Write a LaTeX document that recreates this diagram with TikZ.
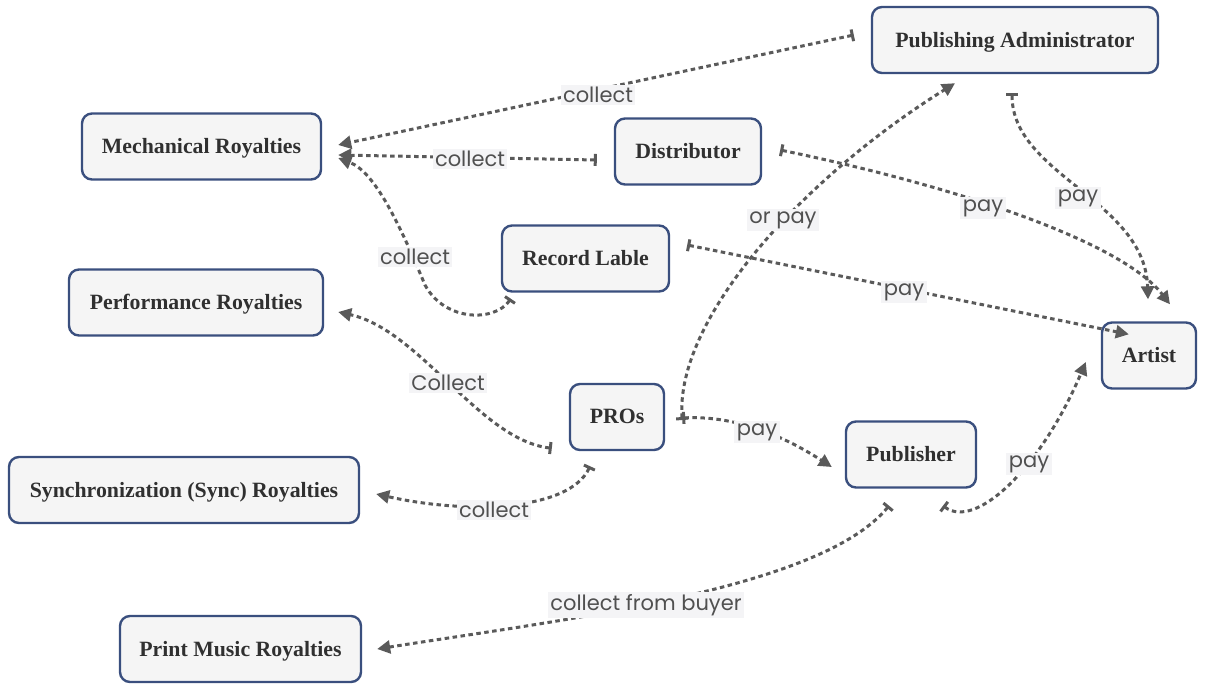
\documentclass[tikz,border=0pt]{standalone}
\usepackage{fontspec}
\setmainfont{Liberation Serif}
\newfontfamily\labelfont{Poppins}
\usetikzlibrary{arrows.meta}
\definecolor{boxfill}{HTML}{F5F5F5}
\definecolor{boxline}{HTML}{3A4F7E}
\definecolor{boxtext}{HTML}{303030}
\definecolor{linkgray}{HTML}{5A5A5A}
\definecolor{tagfill}{HTML}{F4F4F6}
\definecolor{tagtext}{HTML}{505050}

\begin{document}
\begin{tikzpicture}[x=1pt,y=-1pt,
  entity/.style={draw=boxline, line width=2.4pt, fill=boxfill, rounded corners=10pt,
    text=boxtext, font=\bfseries\fontsize{21.8}{24}\selectfont,
    minimum height=66pt, inner sep=0pt, text depth=1pt},
  link/.style={draw=linkgray, line width=3pt, dash pattern=on 4.5pt off 3.5pt,
    {Bar[width=12pt,line width=3pt]}-{Triangle[length=13pt,width=13pt]}},
  tag/.style={fill=tagfill, text=tagtext, font=\labelfont\fontsize{21}{23}\selectfont,
    inner sep=2.5pt}]

\useasboundingbox (0,0) rectangle (1206,683);

% parties and royalty types
\node[entity, minimum width=286pt] (pa)     at (1015,40)    {Publishing Administrator};
\node[entity, minimum width=239pt] (mech)   at (201.5,146.5) {Mechanical Royalties};
\node[entity, minimum width=146pt] (dist)   at (688,151.5)  {Distributor};
\node[entity, minimum width=167pt] (rec)    at (585.5,258.5) {Record Lable};
\node[entity, minimum width=254pt] (perf)   at (196,302.5)  {Performance Royalties};
\node[entity, minimum width=94pt]  (artist) at (1149,355.5) {Artist};
\node[entity, minimum width=94pt]  (pros)   at (617,417)    {PROs};
\node[entity, minimum width=130pt] (pub)    at (911,454.5)  {Publisher};
\node[entity, minimum width=350pt] (sync)   at (184,490)    {Synchronization (Sync) Royalties};
\node[entity, minimum width=241pt] (print)  at (240.5,649)  {Print Music Royalties};

% money flows
\draw[link] ([xshift=-17pt,yshift=5pt]pa.west) -- ([xshift=16pt,yshift=1.5pt]mech.east);
\draw[link] ([xshift=-17pt,yshift=-8.5pt]dist.west) -- ([xshift=16pt,yshift=-8.5pt]mech.east);
\draw[link] ([xshift=10pt,yshift=-6pt]rec.south west)
   .. controls (495,322) and (445,322) .. (425,285)
   .. controls (400,225) and (375,172) .. ([xshift=16pt,yshift=-11.5pt]mech.east);
\draw[link] ([xshift=18pt,yshift=1.5pt]dist.east)
   .. controls (950,185) and (1120,240) .. ([xshift=21pt,yshift=17pt]artist.north);
\draw[link] ([xshift=-3pt,yshift=-19pt]pa.south)
   .. controls (1012,175) and (1145,200) .. ([xshift=-1pt,yshift=22pt]artist.north);
\draw[link] ([xshift=17pt,yshift=13.5pt]rec.east) -- ([xshift=28pt,yshift=-13pt]artist.north west);
\draw[link] ([xshift=-17pt,yshift=3pt]pros.south west)
   .. controls (480,440) and (420,330) .. ([xshift=14pt,yshift=-9.5pt]perf.east);
\draw[link] ([xshift=17pt,yshift=-3pt]pros.east)
   .. controls (675,320) and (800,180) .. ([xshift=-60pt,yshift=-9pt]pa.south);
\draw[link] ([xshift=17pt,yshift=-1pt]pros.east)
   .. controls (740,415) and (790,440) .. ([xshift=-13pt,yshift=-12.5pt]pub.west);
\draw[link] ([xshift=-27pt,yshift=-15pt]pros.south)
   .. controls (570,510) and (470,515) .. ([xshift=16pt,yshift=-4pt]sync.east);
\draw[link] ([xshift=32pt,yshift=-17pt]pub.south)
   .. controls (975,530) and (1040,470) .. ([xshift=-15pt,yshift=-6.5pt]artist.west);
\draw[link] ([xshift=-22pt,yshift=-17pt]pub.south)
   .. controls (820,590) and (560,620) .. ([xshift=15pt]print.east);

% flow labels
\node[tag] (l1)  at (598,95)  {collect};
\node[tag] (l2)  at (470,159) {collect};
\node[tag] (l3)  at (415,257) {collect};
\node[tag] (l4)  at (983,208) {pay};
\node[tag] (l5)  at (1078,198) {pay};
\node[tag] (l6)  at (904,292) {pay};
\node[tag] (l7)  at (448,383) {Collect};
\node[tag] (l8)  at (783,220) {or pay};
\node[tag] (l9)  at (757,432) {pay};
\node[tag] (l10) at (494,510) {collect};
\node[tag] (l11) at (1029,464) {pay};
\node[tag] (l12) at (646,605) {collect from buyer};
\end{tikzpicture}
\end{document}
